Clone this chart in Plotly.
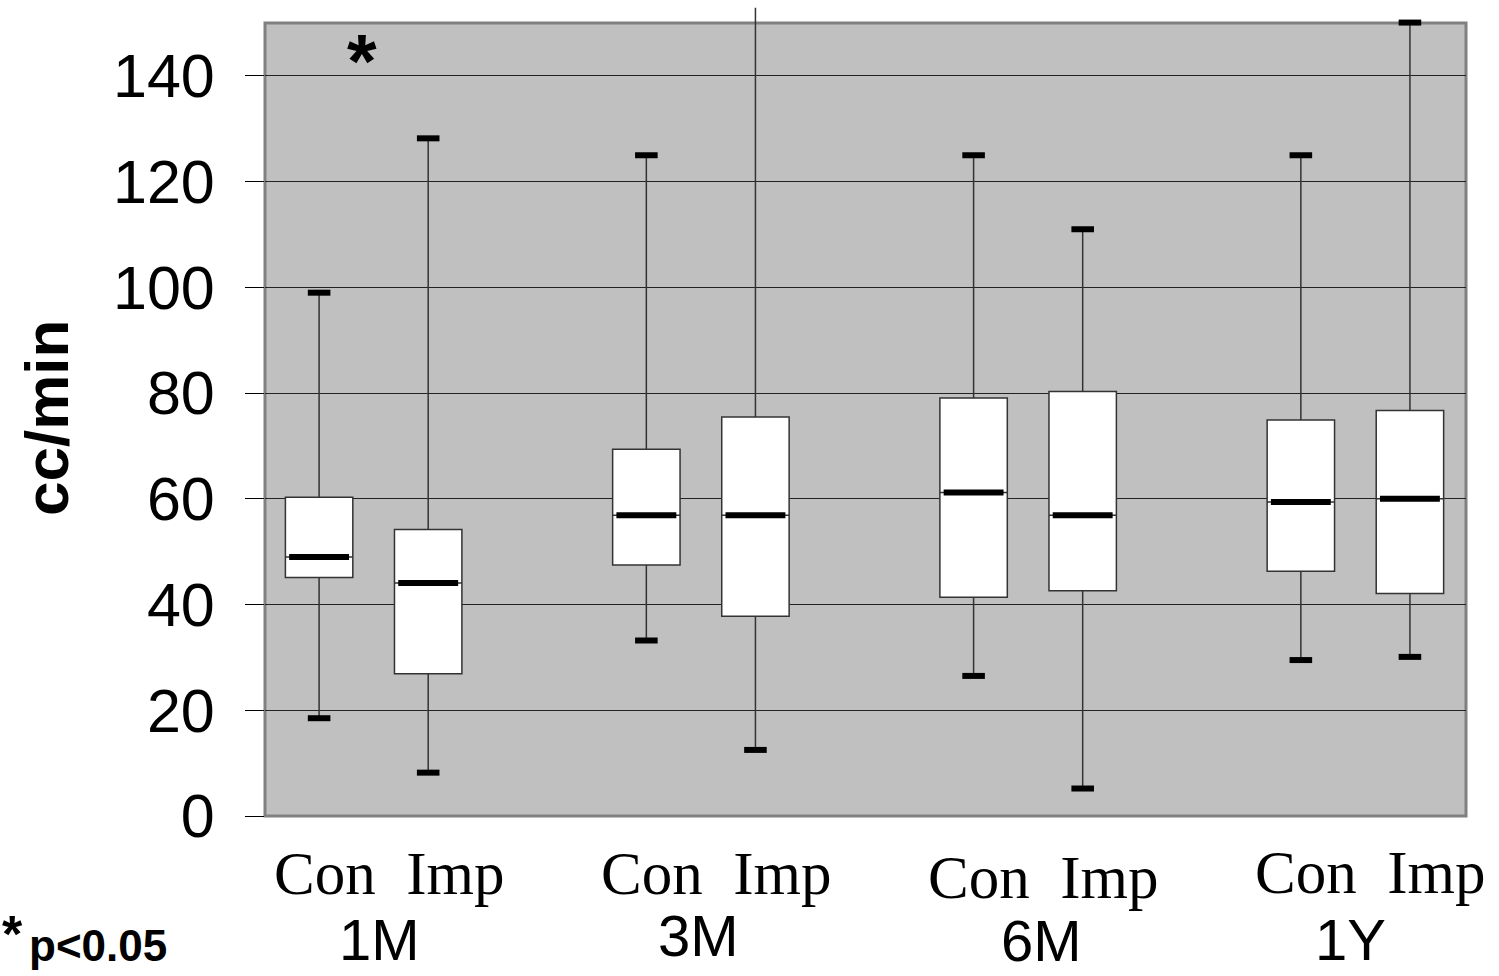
import plotly.graph_objects as go

# Measurement periods and groups
periods = ["1M", "3M", "6M", "1Y"]
group_names = ["Con", "Imp"]

# Control group: whisker ends, quartiles and medians (cc/min)
con_low = [18.5, 33.2, 26.5, 29.5]
con_q1 = [45.1, 47.5, 41.4, 46.3]
con_med = [49.0, 56.9, 61.2, 59.4]
con_q3 = [60.3, 69.4, 79.1, 74.9]
con_high = [99.0, 125.0, 125.0, 125.0]

# Implant group
imp_low = [8.2, 12.5, 5.2, 30.1]
imp_q1 = [26.9, 37.8, 42.6, 42.1]
imp_med = [44.1, 56.9, 56.9, 60.0]
imp_q3 = [54.2, 75.5, 80.3, 76.7]
imp_high = [128.2, 152.9, 111.0, 150.1]

y_ticks = [0, 20, 40, 60, 80, 100, 120, 140]

FRAME_TOP = 150.0      # top of the grey panel
Y_TOP = 154.37         # axis range top (room for whiskers running past the panel)
X_RANGE = [-0.332, 3.338]
OFFSET = 1 / 6         # Con / Imp offset from the period centre
BOX_W = 0.206
MED_W = 0.183
CAP_W = 0.069

x_con = [i - OFFSET for i in range(len(periods))]
x_imp = [i + OFFSET for i in range(len(periods))]

SANS = "Liberation Sans, Arial, sans-serif"
SERIF = "Liberation Serif, Times New Roman, serif"

fig = go.Figure()


def add_group(xs, low, q1, med, q3, high, name):
    fig.add_trace(go.Box(
        x=xs, q1=q1, median=med, q3=q3, lowerfence=low, upperfence=high,
        name=name, width=BOX_W, whiskerwidth=0, boxpoints=False,
        fillcolor="white", line=dict(color="#333333", width=1.5),
        showlegend=False, hoverinfo="skip",
    ))
    # thick median bars
    mx, my = [], []
    for x, m in zip(xs, med):
        mx += [x - MED_W / 2, x + MED_W / 2, None]
        my += [m, m, None]
    fig.add_trace(go.Scatter(x=mx, y=my, mode="lines",
                             line=dict(color="black", width=6),
                             showlegend=False, hoverinfo="skip"))
    # whisker end caps (only those inside the panel)
    cx, cy = [], []
    for x, lo, hi in zip(xs, low, high):
        for v in (lo, hi):
            if v <= FRAME_TOP + 0.5:
                cx += [x - CAP_W / 2, x + CAP_W / 2, None]
                cy += [v, v, None]
    fig.add_trace(go.Scatter(x=cx, y=cy, mode="lines",
                             line=dict(color="black", width=6),
                             showlegend=False, hoverinfo="skip"))


add_group(x_con, con_low, con_q1, con_med, con_q3, con_high, group_names[0])
add_group(x_imp, imp_low, imp_q1, imp_med, imp_q3, imp_high, group_names[1])

# grey panel with its frame
fig.add_shape(type="rect", xref="x domain", yref="y domain",
              x0=0, x1=1, y0=0, y1=FRAME_TOP / Y_TOP,
              fillcolor="#c0c0c0", line=dict(color="#808080", width=3),
              layer="below")

annotations = []
# Con / Imp labels and period labels under each pair
con_imp_shift = [-57, -57, -61, -56]
period_shift = [-123, -119, -124, -123]
period_x_shift = [6, -2, 13, -5]
for i, p in enumerate(periods):
    annotations.append(dict(
        x=i, xref="x", y=0, yref="paper", xshift=15, yshift=con_imp_shift[i],
        text=f"{group_names[0]}  {group_names[1]}", showarrow=False,
        xanchor="center", yanchor="middle",
        font=dict(family=SERIF, size=61, color="black")))
    annotations.append(dict(
        x=i, xref="x", y=0, yref="paper", xshift=period_x_shift[i],
        yshift=period_shift[i], text=p, showarrow=False,
        xanchor="center", yanchor="middle",
        font=dict(family=SANS, size=58, color="black")))

# significance marker over 1M
annotations.append(dict(
    x=0, xref="x", y=143, yref="y", xshift=-12, text="<b>*</b>",
    showarrow=False, xanchor="center", yanchor="middle",
    font=dict(family=SANS, size=76, color="black")))

# footnote
annotations.append(dict(
    x=0, xref="paper", y=0, yref="paper", xshift=-238, yshift=-129,
    text="<b>p&lt;0.05</b>", showarrow=False, xanchor="left", yanchor="middle",
    font=dict(family=SANS, size=44, color="black")))
annotations.append(dict(
    x=0, xref="paper", y=0, yref="paper", xshift=-265, yshift=-118,
    text="<b>*</b>", showarrow=False, xanchor="left", yanchor="middle",
    font=dict(family=SANS, size=52, color="black")))

# y-axis title
annotations.append(dict(
    x=0, xref="paper", y=(816 - 418) / 816, yref="paper", xshift=-218,
    text="<b>cc/min</b>", textangle=-90, showarrow=False,
    xanchor="center", yanchor="middle",
    font=dict(family=SANS, size=62, color="black")))

fig.update_layout(
    width=1499, height=976,
    margin=dict(l=265, r=33, t=0, b=160),
    paper_bgcolor="white", plot_bgcolor="white",
    boxmode="overlay",
    showlegend=False,
    annotations=annotations,
    xaxis=dict(range=X_RANGE, showgrid=False, zeroline=False, showline=False,
               showticklabels=False, ticks=""),
    yaxis=dict(range=[0, Y_TOP], tickvals=y_ticks, ticktext=[str(v) for v in y_ticks],
               showgrid=True, gridcolor="#222222", gridwidth=1.3,
               zeroline=False, showline=False,
               ticks="outside", ticklen=19, tickwidth=1.3, tickcolor="black",
               ticklabelstandoff=18,
               tickfont=dict(family=SANS, size=61, color="black")),
)

fig.write_html("out.html")
